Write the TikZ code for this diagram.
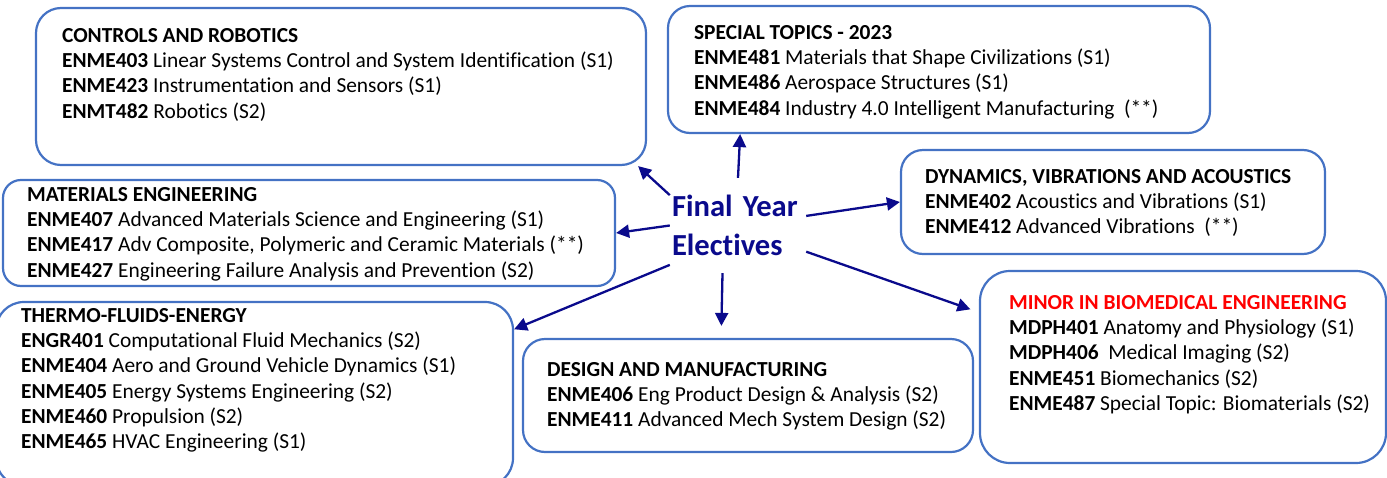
\documentclass[tikz,border=0pt]{standalone}
\usepackage{fontspec}
\setmainfont{Carlito}[Ligatures=NoCommon]
\usetikzlibrary{arrows.meta}

\definecolor{boxblue}{HTML}{4472C4}
\definecolor{navyarrow}{RGB}{10,10,140}
\definecolor{minorred}{RGB}{255,0,0}

\newcommand{\course}[2]{\textbf{#1} #2}

\begin{document}
\begin{tikzpicture}[x=1pt, y=-1pt,
    grpbox/.style={draw=boxblue, line width=2.2pt, rounded corners=22pt, inner sep=0pt},
    grptext/.style={anchor=north west, align=left, inner sep=0pt, font=\fontsize{21.4}{25.3}\selectfont},
    elecarrow/.style={navyarrow, line width=2.3pt, -{Triangle[length=13pt,width=13pt]}}]
    \useasboundingbox (0,0) rectangle (1387,477);

    % Centre label
    \node[align=left, text=navyarrow, inner xsep=2pt, inner ysep=0pt, text width=132pt,
          minimum height=95pt, font=\fontsize{30.6}{38.5}\selectfont\bfseries] (fye) at (738,225.5)
          {Final Year\\Electives};

    % Group boxes
    \node[grpbox, minimum width=610, minimum height=157, rounded corners=25pt] (ctrl) at (341,86.5) {};
    \node[grpbox, minimum width=542, minimum height=127] (spec) at (939,69.5) {};
    \node[grpbox, minimum width=612, minimum height=106, rounded corners=18pt] (mat) at (309,233) {};
    \node[grpbox, minimum width=424, minimum height=104] (dyn) at (1113,202) {};
    \node[grpbox, minimum width=517, minimum height=184, rounded corners=28pt] (thermo) at (254.5,394) {};
    \node[grpbox, minimum width=450, minimum height=113] (design) at (748,395.5) {};
    \node[grpbox, minimum width=406, minimum height=192, rounded corners=30pt] (minor) at (1183,367) {};

    % Box contents
    \node[grptext] (ctrltxt) at ([shift={(27,21)}]ctrl.north west) {%
        \textbf{CONTROLS AND ROBOTICS}\\
        \course{ENME403}{Linear Systems Control and System Identification (S1)}\\
        \course{ENME423}{Instrumentation and Sensors (S1)}\\
        \course{ENMT482}{Robotics (S2)}};
    \node[grptext] (spectxt) at ([shift={(27,20)}]spec.north west) {%
        \textbf{SPECIAL TOPICS - 2023}\\
        \course{ENME481}{Materials that Shape Civilizations (S1)}\\
        \course{ENME486}{Aerospace Structures (S1)}\\
        \course{ENME484}{Industry 4.0 Intelligent Manufacturing\ \ (**)}};
    \node[grptext] (mattxt) at ([shift={(25,8)}]mat.north west) {%
        \textbf{MATERIALS ENGINEERING}\\
        \course{ENME407}{Advanced Materials Science and Engineering (S1)}\\
        \course{ENME417}{Adv Composite, Polymeric and Ceramic Materials (**)}\\
        \course{ENME427}{Engineering Failure Analysis and Prevention (S2)}};
    \node[grptext] (dyntxt) at ([shift={(25,20)}]dyn.north west) {%
        \textbf{DYNAMICS, VIBRATIONS AND ACOUSTICS}\\
        \course{ENME402}{Acoustics and Vibrations (S1)}\\
        \course{ENME412}{Advanced Vibrations\ \ (**)}};
    \node[grptext] (thermotxt) at ([shift={(26,7)}]thermo.north west) {%
        \textbf{THERMO-FLUIDS-ENERGY}\\
        \course{ENGR401}{Computational Fluid Mechanics (S2)}\\
        \course{ENME404}{Aero and Ground Vehicle Dynamics (S1)}\\
        \course{ENME405}{Energy Systems Engineering (S2)}\\
        \course{ENME460}{Propulsion (S2)}\\
        \course{ENME465}{HVAC Engineering (S1)}};
    \node[grptext] (designtxt) at ([shift={(25,24)}]design.north west) {%
        \textbf{DESIGN AND MANUFACTURING}\\
        \course{ENME406}{Eng Product Design \& Analysis (S2)}\\
        \course{ENME411}{Advanced Mech System Design (S2)}};
    \node[grptext] (minortxt) at ([shift={(30,25)}]minor.north west) {%
        \textbf{\color{minorred}MINOR IN BIOMEDICAL ENGINEERING}\\
        \course{MDPH401}{Anatomy and Physiology (S1)}\\
        \course{MDPH406}{\ Medical Imaging (S2)}\\
        \course{ENME451}{Biomechanics (S2)}\\
        \course{ENME487}{Special Topic: Biomaterials (S2)}};

    % Arrows out of the centre label
    \draw[elecarrow] (fye.156) -- (ctrl.-15);
    \draw[elecarrow] (fye.north) -- (spec.198);
    \draw[elecarrow] (fye.west) -- (mat.east);
    \draw[elecarrow] (fye.8) -- (dyn.west);
    \draw[elecarrow] (fye.210) -- (thermo.14);
    \draw[elecarrow, shorten >=12pt] (fye.252) -- (design.115);
    \draw[elecarrow, shorten >=9pt] (fye.-21) -- (minor.165);
\end{tikzpicture}
\end{document}
